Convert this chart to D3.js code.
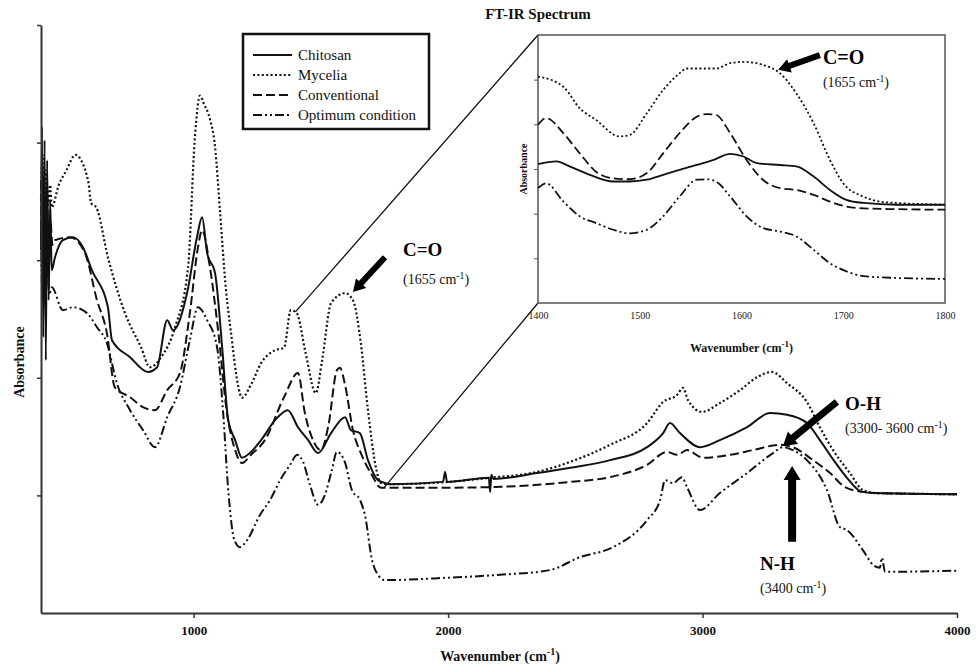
<!DOCTYPE html>
<html><head><meta charset="utf-8">
<script src="https://cdn.jsdelivr.net/npm/d3@7"></script>
<style>body{margin:0;background:#fff}svg{display:block;font-family:"Liberation Serif","Times New Roman",serif}</style>
</head><body><svg id="c" width="977" height="668"></svg>
<script>
// ---------- main spectrum data (wavenumber cm-1, absorbance a.u.) ----------
const wnChitosan = [400,404,409,414,419,424,430,436,442,455,486,525,565,600,663,679,750,821,856,896,919,974,1013,1033,1053,1084,1112,1135,1163,1190,1225,1265,1320,1370,1410,1450,1489,1540,1595,1618,1653,1685,1724,1752,1770,1980,1988,1996,2160,2165,2170,2178,2350,2480,2636,2782,2845,2872,2911,2990,3068,3175,3265,3332,3410,3461,3520,3575,3626,3680,4000];
const absChitosan = [0.617,0.827,0.469,0.804,0.430,0.770,0.532,0.702,0.583,0.605,0.634,0.639,0.622,0.583,0.520,0.464,0.435,0.410,0.418,0.498,0.481,0.544,0.639,0.673,0.612,0.578,0.452,0.330,0.294,0.264,0.274,0.294,0.328,0.345,0.316,0.294,0.272,0.306,0.333,0.311,0.306,0.260,0.226,0.221,0.219,0.223,0.240,0.223,0.230,0.206,0.235,0.228,0.238,0.247,0.260,0.282,0.306,0.323,0.306,0.282,0.294,0.316,0.340,0.337,0.323,0.294,0.257,0.226,0.206,0.204,0.202];

const wnMycelia = [400,406,413,420,428,436,442,470,500,535,585,597,617,663,730,793,828,872,927,978,1005,1025,1040,1064,1084,1104,1127,1147,1174,1190,1225,1265,1320,1355,1382,1405,1440,1480,1505,1540,1595,1626,1657,1685,1716,1736,1770,2000,2165,2350,2480,2636,2782,2845,2900,2923,2943,2998,3068,3147,3214,3273,3332,3410,3461,3513,3579,3630,3680,4000];
const absMycelia = [0.702,0.779,0.699,0.753,0.694,0.728,0.690,0.728,0.753,0.779,0.736,0.697,0.690,0.605,0.510,0.452,0.418,0.435,0.486,0.588,0.810,0.880,0.866,0.840,0.793,0.680,0.549,0.476,0.388,0.366,0.388,0.425,0.447,0.451,0.515,0.510,0.442,0.374,0.430,0.527,0.544,0.532,0.459,0.345,0.248,0.221,0.219,0.223,0.230,0.240,0.257,0.286,0.323,0.359,0.371,0.383,0.362,0.342,0.357,0.379,0.401,0.410,0.391,0.359,0.316,0.277,0.238,0.209,0.204,0.202];

const wnConventional = [400,405,411,417,423,430,437,445,455,514,573,620,659,690,750,801,848,896,946,985,1017,1033,1064,1096,1131,1163,1190,1225,1280,1355,1410,1437,1469,1500,1530,1563,1575,1595,1626,1660,1700,1736,1960,2165,2350,2480,2636,2782,2860,2900,2939,3002,3108,3198,3304,3355,3434,3501,3560,3630,3680,4000];
const absConventional = [0.736,0.566,0.745,0.558,0.719,0.592,0.668,0.626,0.634,0.639,0.612,0.532,0.476,0.384,0.367,0.350,0.345,0.379,0.408,0.510,0.622,0.651,0.588,0.481,0.340,0.277,0.255,0.269,0.294,0.367,0.408,0.340,0.294,0.277,0.320,0.413,0.417,0.388,0.311,0.269,0.235,0.213,0.213,0.214,0.218,0.223,0.231,0.252,0.274,0.269,0.277,0.264,0.269,0.277,0.286,0.282,0.260,0.238,0.214,0.206,0.204,0.202];

const wnOptimum = [400,406,412,418,425,432,442,486,525,581,620,659,698,750,801,848,896,946,985,1017,1053,1092,1116,1135,1160,1182,1210,1261,1300,1340,1379,1407,1430,1457,1489,1516,1543,1563,1594,1622,1654,1673,1701,1724,1752,2000,2204,2400,2518,2648,2782,2833,2853,2884,2919,2939,2990,3068,3175,3277,3316,3355,3410,3489,3540,3568,3630,3670,3697,3705,3717,4000];
const absOptimum = [0.651,0.532,0.685,0.549,0.634,0.541,0.554,0.515,0.520,0.510,0.486,0.459,0.391,0.345,0.311,0.282,0.333,0.384,0.464,0.520,0.498,0.452,0.340,0.214,0.124,0.112,0.124,0.167,0.192,0.226,0.252,0.269,0.257,0.218,0.184,0.201,0.243,0.274,0.257,0.209,0.192,0.167,0.090,0.065,0.056,0.060,0.065,0.073,0.095,0.112,0.158,0.192,0.226,0.221,0.231,0.214,0.175,0.204,0.238,0.272,0.282,0.277,0.260,0.209,0.146,0.141,0.107,0.082,0.077,0.094,0.070,0.072];

// ---------- inset data (1400-1800 cm-1) ----------
const wnInset = [1400,1418,1431,1451,1474,1490,1507,1523,1539,1556,1572,1589,1602,1615,1638,1654,1671,1687,1703,1720,1753,1800];
const insChitosan = [3.11,3.17,3.06,2.87,2.72,2.72,2.76,2.87,2.98,3.09,3.20,3.34,3.28,3.13,3.09,3.06,2.83,2.53,2.31,2.24,2.20,2.20];
const wnInsMycelia = [1400,1425,1441,1457,1480,1490,1507,1523,1539,1546,1562,1575,1589,1602,1621,1638,1654,1671,1687,1700,1720,1736,1753,1800];
const insMycelia = [5.07,4.84,4.36,4.10,3.73,3.76,4.25,4.77,5.14,5.25,5.25,5.25,5.37,5.40,5.33,5.14,4.69,4.02,3.20,2.68,2.38,2.27,2.24,2.20];
const wnInsOther = [1400,1408,1425,1441,1457,1474,1490,1507,1523,1539,1556,1566,1575,1589,1605,1621,1638,1654,1671,1687,1703,1720,1753,1800];
const insConventional = [3.99,4.14,3.80,3.35,2.94,2.79,2.77,2.91,3.35,3.80,4.17,4.23,4.21,3.80,3.20,2.76,2.57,2.53,2.42,2.27,2.16,2.12,2.10,2.09];
const insOptimum = [2.57,2.68,2.27,1.94,1.79,1.64,1.56,1.64,1.94,2.38,2.76,2.77,2.72,2.38,1.94,1.68,1.60,1.49,1.19,0.89,0.71,0.60,0.56,0.54];

// ---------- labels & ticks ----------
const seriesNames = ["Chitosan","Mycelia","Conventional","Optimum condition"];
const mainXTicks = [1000,2000,3000,4000];
const mainYTicks = [0.2,0.4,0.6,0.8,1.0];
const insetXTicks = [1400,1500,1600,1700,1800];
const insetYTicks = [1,2,3,4,5];

const dashes = ["none","2,2.4","9,4","9,3,2,3,2,3"];

const svg = d3.select("#c");

// ---------- main chart ----------
const x = d3.scaleLinear().domain([400,4000]).range([41,957]);
const y = d3.scaleLinear().domain([0,1]).range([613,25]);

const mainSeries = [
  {wn: wnChitosan, a: absChitosan},
  {wn: wnMycelia, a: absMycelia},
  {wn: wnConventional, a: absConventional},
  {wn: wnOptimum, a: absOptimum}
];
const lineMain = d3.line().x(d => x(d[0])).y(d => y(d[1])).curve(d3.curveMonotoneX);
mainSeries.forEach((s, i) => {
  svg.append("path").datum(s.wn.map((w, k) => [w, s.a[k]]))
    .attr("d", lineMain).attr("fill","none").attr("stroke","#111")
    .attr("stroke-width", i === 1 ? 2.2 : 2).attr("stroke-dasharray", dashes[i])
    .attr("stroke-linejoin","round");
});

const gx = svg.append("g").attr("transform","translate(0,613)")
  .call(d3.axisBottom(x).tickValues(mainXTicks).tickSize(5).tickSizeOuter(0).tickFormat(d3.format("d")));
const gy = svg.append("g").attr("transform","translate(41,0)")
  .call(d3.axisLeft(y).tickValues(mainYTicks).tickSize(4).tickSizeOuter(0).tickFormat(""));
[gx, gy].forEach(g => {
  g.select(".domain").attr("stroke","#333").attr("stroke-width",2);
  g.selectAll(".tick line").attr("stroke","#333").attr("stroke-width",1.5);
});
gx.selectAll(".tick text").attr("font-family","Liberation Serif").attr("font-size",13)
  .attr("font-weight","bold").attr("fill","#111").attr("dy","1.05em");

svg.append("text").attr("x",500).attr("y",661).attr("text-anchor","middle")
  .attr("font-size",14).attr("font-weight","bold").attr("fill","#111")
  .call(t => { t.append("tspan").text("Wavenumber (cm");
    t.append("tspan").attr("dy",-6).attr("font-size",10).text("-1");
    t.append("tspan").attr("dy",6).text(")"); });
svg.append("text").attr("transform","translate(24,362) rotate(-90)").attr("text-anchor","middle")
  .attr("font-size",14).attr("font-weight","bold").attr("fill","#111").text("Absorbance");
svg.append("text").attr("x",538).attr("y",19).attr("text-anchor","middle")
  .attr("font-size",15).attr("font-weight","bold").attr("fill","#111").text("FT-IR Spectrum");

// ---------- legend ----------
const lg = svg.append("g");
lg.append("rect").attr("x",243).attr("y",34).attr("width",186).attr("height",95)
  .attr("fill","#fff").attr("stroke","#111").attr("stroke-width",2.5);
seriesNames.forEach((n, i) => {
  const by = 60 + i*20;
  lg.append("line").attr("x1",253).attr("x2",292).attr("y1",by-5).attr("y2",by-5)
    .attr("stroke","#111").attr("stroke-width",2.2).attr("stroke-dasharray",dashes[i]);
  lg.append("text").attr("x",298).attr("y",by).attr("font-size",15).attr("fill","#111").text(n);
});

// ---------- inset ----------
const xi = d3.scaleLinear().domain([1400,1800]).range([538,945]);
const yi = d3.scaleLinear().domain([0,6]).range([303,35]);

// connector lines
svg.append("line").attr("x1",x(1400)).attr("y1",y(0.512)).attr("x2",xi(1400)).attr("y2",yi(6))
  .attr("stroke","#111").attr("stroke-width",1.3);
svg.append("line").attr("x1",x(1750)).attr("y1",y(0.214)).attr("x2",xi(1400)).attr("y2",yi(0))
  .attr("stroke","#111").attr("stroke-width",1.3);

svg.append("rect").attr("x",xi(1400)).attr("y",yi(6)).attr("width",xi(1800)-xi(1400)).attr("height",yi(0)-yi(6))
  .attr("fill","#fff").attr("stroke","#555").attr("stroke-width",1.5);

const insetSeries = [
  {wn: wnInset, a: insChitosan},
  {wn: wnInsMycelia, a: insMycelia},
  {wn: wnInsOther, a: insConventional},
  {wn: wnInsOther, a: insOptimum}
];
const lineIns = d3.line().x(d => xi(d[0])).y(d => yi(d[1])).curve(d3.curveMonotoneX);
insetSeries.forEach((s, i) => {
  svg.append("path").datum(s.wn.map((w, k) => [w, s.a[k]]))
    .attr("d", lineIns).attr("fill","none").attr("stroke","#111")
    .attr("stroke-width", 1.8).attr("stroke-dasharray", dashes[i]);
});
const gxi = svg.append("g").attr("transform",`translate(0,${yi(0)})`)
  .call(d3.axisBottom(xi).tickValues(insetXTicks).tickSize(0).tickSizeOuter(0).tickFormat(d3.format("d")));
gxi.select(".domain").remove();
gxi.selectAll(".tick text").attr("font-family","Liberation Serif").attr("font-size",10).attr("fill","#222").attr("dy","1.3em");
const gyi = svg.append("g").attr("transform",`translate(${xi(1400)},0)`)
  .call(d3.axisLeft(yi).tickValues(insetYTicks).tickSize(4).tickSizeOuter(0).tickFormat(""));
gyi.select(".domain").remove();
gyi.selectAll(".tick line").attr("stroke","#555");
svg.append("text").attr("x",(xi(1400)+xi(1800))/2).attr("y",352).attr("text-anchor","middle")
  .attr("font-size",12).attr("font-weight","bold").attr("fill","#111")
  .call(t => { t.append("tspan").text("Wavenumber (cm");
    t.append("tspan").attr("dy",-5).attr("font-size",9).text("-1");
    t.append("tspan").attr("dy",5).text(")"); });
svg.append("text").attr("transform",`translate(527,${(yi(0)+yi(6))/2}) rotate(-90)`).attr("text-anchor","middle")
  .attr("font-size",10).attr("font-weight","bold").attr("fill","#111").text("Absorbance");

// ---------- annotations ----------
function arrow(x1,y1,x2,y2,w,hw,hl){
  const dx=x2-x1, dy=y2-y1, L=Math.hypot(dx,dy), ux=dx/L, uy=dy/L, px=-uy, py=ux;
  const bx=x2-ux*hl, by=y2-uy*hl;
  const pts=[[x1+px*w/2,y1+py*w/2],[bx+px*w/2,by+py*w/2],[bx+px*hw/2,by+py*hw/2],[x2,y2],
             [bx-px*hw/2,by-py*hw/2],[bx-px*w/2,by-py*w/2],[x1-px*w/2,y1-py*w/2]];
  svg.append("path").attr("d","M"+pts.map(p=>p.join(",")).join("L")+"Z").attr("fill","#000");
}
function boldLabel(tx,ty,txt,size){
  svg.append("text").attr("x",tx).attr("y",ty).attr("font-size",size).attr("font-weight","bold").attr("fill","#000").text(txt);
}
function sublabel(tx,ty,pre,post,size){
  svg.append("text").attr("x",tx).attr("y",ty).attr("font-size",size).attr("fill","#111")
    .call(t => { t.append("tspan").text(pre+" cm");
      t.append("tspan").attr("dy",-5).attr("font-size",size*0.7).text("-1");
      t.append("tspan").attr("dy",5).text(post); });
}
// main C=O
arrow(x(1752),y(0.605),x(1626),y(0.546),6,14,12);
boldLabel(x(1823),y(0.607),"C=O",19);
sublabel(x(1823),y(0.560),"(1655",")",14);
// O-H
arrow(x(3528),y(0.359),x(3316),y(0.284),7,16,13);
boldLabel(x(3560),y(0.345),"O-H",19);
sublabel(x(3560),y(0.306),"(3300- 3600",")",14);
// N-H
arrow(x(3352),y(0.121),x(3352),y(0.250),8,17,14);
boldLabel(x(3226),y(0.073),"N-H",19);
sublabel(x(3226),y(0.034),"(3400",")",14);
// inset C=O
arrow(xi(1677),yi(5.55),xi(1636),yi(5.22),6,14,12);
boldLabel(xi(1680),yi(5.35),"C=O",20);
sublabel(xi(1680),yi(4.84),"(1655",")",14);
</script></body></html>
